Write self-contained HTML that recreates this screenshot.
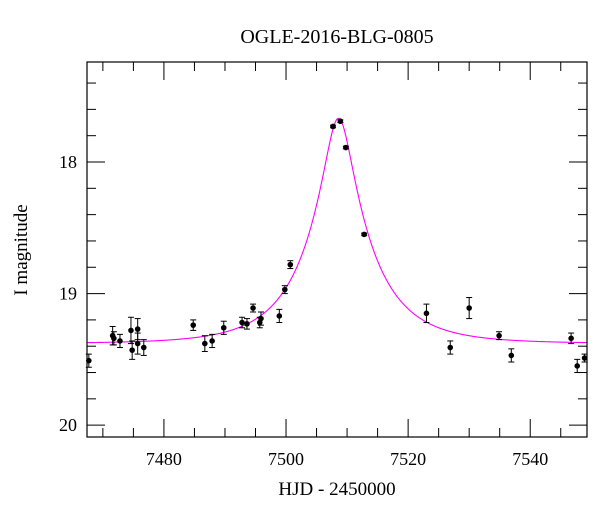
<!DOCTYPE html>
<html><head><meta charset="utf-8"><style>
body{margin:0;background:#fff}
svg text{font-family:"Liberation Serif",serif;fill:#000}
</style></head><body>
<svg id="chart" width="600" height="512">
<text x="337" y="43" font-size="20" text-anchor="middle">OGLE-2016-BLG-0805</text>
<text x="337" y="495" font-size="19" text-anchor="middle">HJD - 2450000</text>
<text transform="translate(27,250) rotate(-90)" font-size="19" text-anchor="middle">I magnitude</text>
<g id="ticks"></g>
<path id="model" fill="none" stroke="#ff00ff" stroke-width="1.1"></path>
<g id="pts"></g>
<rect x="87" y="62" width="500" height="375" fill="none" stroke="#000" stroke-width="1.2"/>
</svg>
<script>
const hjd=[7467.7,7471.6,7471.8,7472.8,7474.6,7474.8,7475.7,7475.7,7476.7,7484.8,7486.7,7487.9,7489.8,7492.8,7493.6,7494.6,7495.7,7495.9,7498.9,7499.8,7500.7,7507.7,7508.9,7509.8,7512.8,7523.0,7526.9,7530.0,7534.9,7536.9,7546.7,7547.7,7548.9];
const mag=[19.51,19.32,19.34,19.36,19.28,19.43,19.27,19.38,19.41,19.24,19.38,19.36,19.26,19.22,19.23,19.11,19.22,19.19,19.17,18.97,18.78,17.73,17.69,17.89,18.55,19.15,19.41,19.11,19.32,19.47,19.34,19.55,19.49];
const err=[0.05,0.07,0.05,0.05,0.1,0.07,0.08,0.08,0.06,0.04,0.06,0.05,0.05,0.04,0.04,0.03,0.04,0.05,0.05,0.03,0.03,0.01,0.01,0.01,0.01,0.07,0.05,0.08,0.03,0.05,0.04,0.05,0.03];
const xTicks=[7480,7500,7520,7540];
const yTicks=[18,19,20];
const t0=7508.6, tE=10.5, u0=0.21, base=19.38;
const X0=7467.4,X1=7549.3,Y0=17.24,Y1=20.09;
const L=87,R=587,T=62,B=437;
const sx=v=>L+(v-X0)/(X1-X0)*(R-L);
const sy=v=>T+(v-Y0)/(Y1-Y0)*(B-T);
const NS='http://www.w3.org/2000/svg';
const tk=document.getElementById('ticks');
function line(x1,y1,x2,y2,name){const l=document.createElementNS(NS,'line');l.setAttribute('x1',x1);l.setAttribute('y1',y1);l.setAttribute('x2',x2);l.setAttribute('y2',y2);l.setAttribute('stroke','#000');l.setAttribute('stroke-width','1');


tk.appendChild(l);}
for(let v=7470;v<=7545;v+=5){const x=sx(v);const maj=v%20==0;const len=maj?18:9;line(x,B,x,B-len,'x-tick');line(x,T,x,T+len,'x-tick');}
for(let k=0;k<=14;k++){const v=17.4+k*0.2;const y=sy(v);if(y<T||y>B)continue;const maj=Math.abs(v-Math.round(v))<1e-6;const len=maj?18:9;line(L,y,L+len,y,'y-tick');line(R,y,R-len,y,'y-tick');}
xTicks.forEach(v=>{const t=document.createElementNS(NS,'text');t.setAttribute('x',sx(v));t.setAttribute('y',B+28);t.setAttribute('font-size','18');t.setAttribute('text-anchor','middle');t.textContent=v;


tk.appendChild(t);});
yTicks.forEach(v=>{const t=document.createElementNS(NS,'text');t.setAttribute('x',L-10);t.setAttribute('y',sy(v)+6);t.setAttribute('font-size','18');t.setAttribute('text-anchor','end');t.textContent=v;


tk.appendChild(t);});
let d='';
for(let i=0;i<=1000;i++){const t=X0+(X1-X0)*i/1000;const tau=(t-t0)/tE;const u=Math.sqrt(u0*u0+tau*tau);const A=(u*u+2)/(u*Math.sqrt(u*u+4));const m=base-2.5*Math.log10(A);d+=(i?'L':'M')+sx(t).toFixed(2)+','+sy(m).toFixed(2);}
document.getElementById('model').setAttribute('d',d);
const pg=document.getElementById('pts');
hjd.forEach((h,i)=>{const g=document.createElementNS(NS,'g');


const x=sx(h),ya=sy(mag[i]-err[i]),yb=sy(mag[i]+err[i]);
g.innerHTML=`<line x1="${x}" y1="${ya}" x2="${x}" y2="${yb}" stroke="#000"/><line x1="${x-3}" y1="${ya}" x2="${x+3}" y2="${ya}" stroke="#000"/><line x1="${x-3}" y1="${yb}" x2="${x+3}" y2="${yb}" stroke="#000"/><circle cx="${x}" cy="${sy(mag[i])}" r="2.8" fill="#000"/>`;
pg.appendChild(g);});
</script>
</body></html>
